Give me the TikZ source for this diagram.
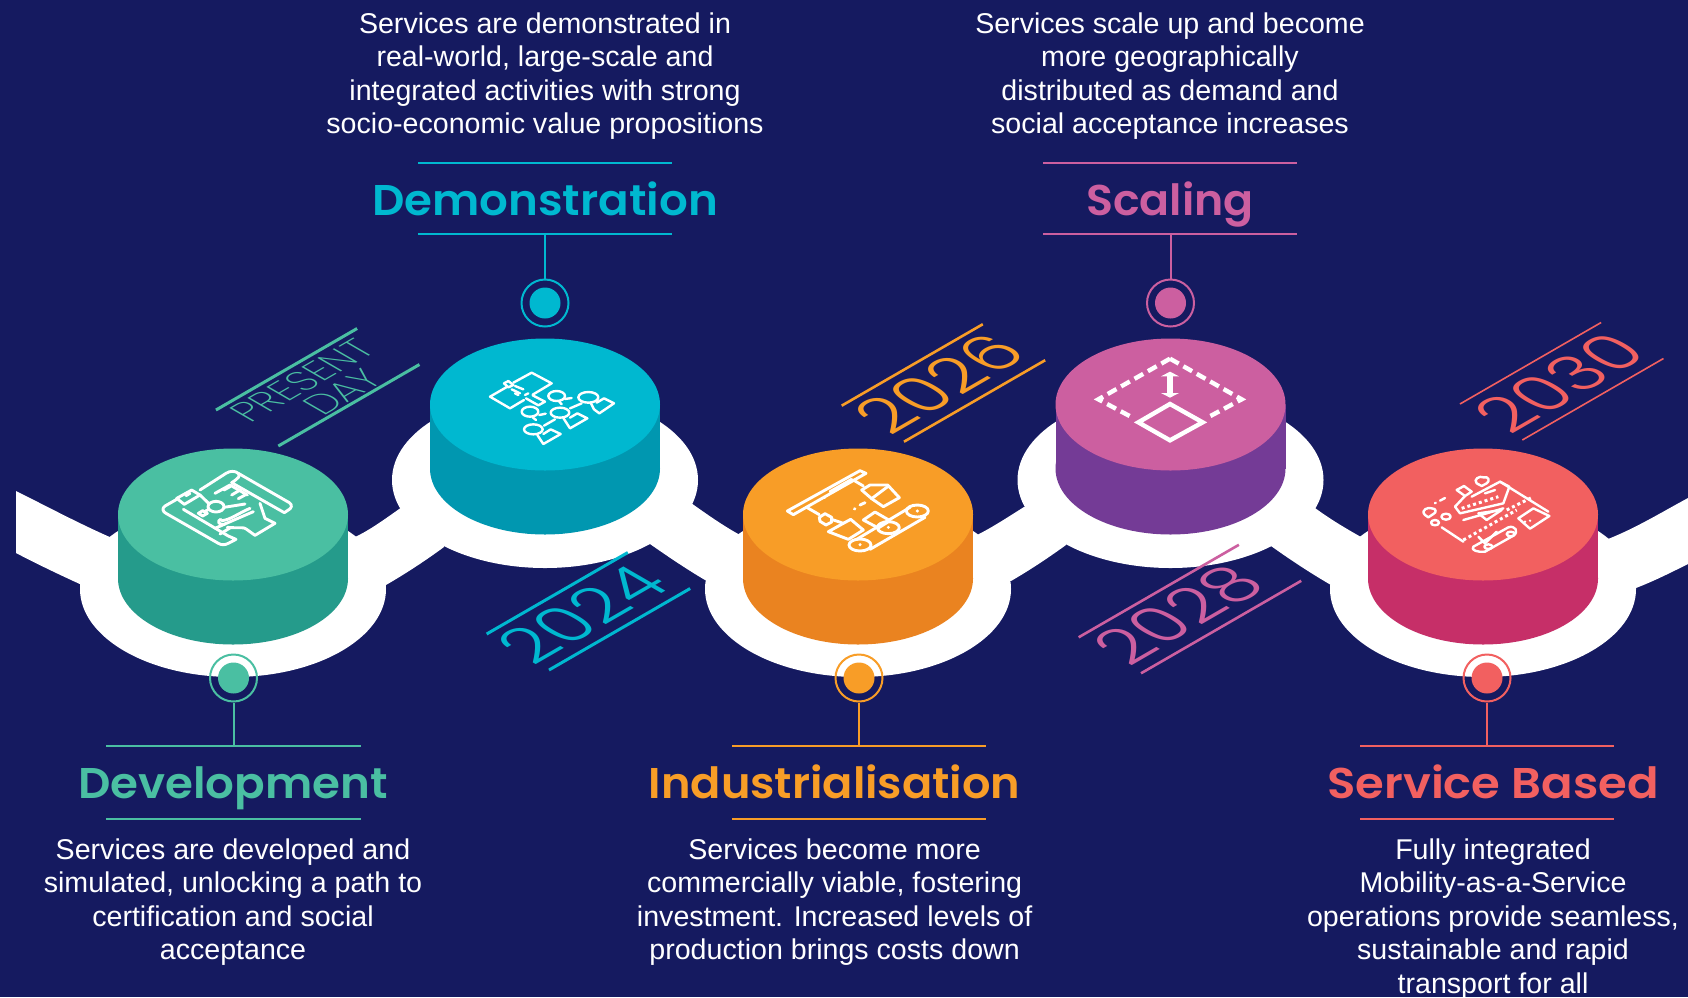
\documentclass[tikz,border=0pt]{standalone}
\usepackage{fontspec}
\setmainfont{Liberation Sans}
\newfontfamily\headf[FakeStretch=1.05]{Poppins SemiBold}
\newfontfamily\thinf{Poppins Light}
\newfontfamily\hairf{Poppins ExtraLight}
\definecolor{navy}{HTML}{151A60}
\definecolor{gA}{HTML}{4ABFA2}\definecolor{gB}{HTML}{259B8B}
\definecolor{tA}{HTML}{00B8D0}\definecolor{tB}{HTML}{0097B0}
\definecolor{oA}{HTML}{F89D27}\definecolor{oB}{HTML}{EA8320}
\definecolor{pA}{HTML}{CC5FA0}\definecolor{pB}{HTML}{743B96}
\definecolor{rA}{HTML}{F26060}\definecolor{rB}{HTML}{C62F68}
\tikzset{
  bodytext/.style={text=white,align=center,inner sep=0pt,font=\fontsize{28.6}{33.5}\selectfont},
  headtext/.style={inner sep=0pt,anchor=base,font=\headf\fontsize{43}{50}\selectfont},
  ring/.style={circle,draw=#1,line width=2pt,minimum size=47pt,inner sep=0pt},
  dot/.style={circle,fill=#1,minimum size=31pt,inner sep=0pt},
  rule/.style={draw=#1,line width=2pt},
  icon/.style={draw=white,line width=2.9pt,line join=round,line cap=round},
  thinicon/.style={draw=white,line width=2.4pt,line join=round,line cap=round},
  datetext/.style={text=#1,transform shape,inner sep=0pt,anchor=base west,font=\thinf\fontsize{68}{70}\selectfont},
}
\newcommand{\whitepad}[2]{\fill[white] (#1,#2+11) ellipse [x radius=153,y radius=88];}
\newcommand{\puck}[4]{%
  \fill[#4] (#1-115,#2) rectangle (#1+115,#2+64);
  \fill[#4] (#1,#2+64) ellipse [x radius=115,y radius=66];
  \fill[#3] (#1,#2) ellipse [x radius=115,y radius=66];}
\newenvironment{isoframe}[2]{\begin{scope}[shift={(#1,#2)},x=1pt,y=1pt,cm={0.866,0.5,-0.866,0.5,(0,0)}]}{\end{scope}}
\newcommand{\isorails}[4]{% length, colour, width, name
  \coordinate (#4a) at (0,0);\coordinate (#4b) at (#1,0);
  \coordinate (#4c) at (0,72);\coordinate (#4d) at (#1,72);
  \draw[#2,line width=#3pt] (#4a) -- (#4b);
  \draw[#2,line width=#3pt] (#4c) -- (#4d);}
\begin{document}
\begin{tikzpicture}[x=1pt,y=-1pt]
\useasboundingbox (0,0) rectangle (1688,997);
\fill[navy] (0,0) rectangle (1688,997);
% road
\fill[white] (16,491) .. controls (50,508) and (80,524) .. (112,538) -- (150,560) -- (82,585) .. controls (60,575) and (35,563) .. (16,553) -- cycle;
\fill[white] (355,537) .. controls (370,530) and (385,519) .. (402,507) -- (450,520) -- (444,547) .. controls (425,561) and (405,574) .. (386,585) -- (340,570) -- cycle;
\fill[white] (691,503) .. controls (708,515) and (722,525) .. (740,535) -- (740,590) -- (705,580) .. controls (688,570) and (670,558) .. (650,544) -- (650,500) -- cycle;
\fill[white] (977,535) .. controls (993,527) and (1008,517) .. (1024,507) -- (1070,510) -- (1066,545) .. controls (1048,558) and (1030,570) .. (1011,581) -- (970,570) -- cycle;
\fill[white] (1315,508) .. controls (1330,519) and (1345,528) .. (1361,537) -- (1361,590) -- (1331,585) .. controls (1312,574) and (1292,561) .. (1271,546) -- (1271,500) -- cycle;
\fill[white] (1608,539) .. controls (1636,528) and (1662,512) .. (1688,498) -- (1688,564) .. controls (1670,573) and (1654,581) .. (1636,588) -- (1590,590) -- cycle;
\whitepad{233}{578}\whitepad{545}{469}\whitepad{858}{578}\whitepad{1170.5}{469}\whitepad{1483}{578}
% date labels
\begin{isoframe}{278.3}{446}
 \isorails{163}{gA}{3}{dp}
 \node[datetext=gA,font=\hairf\fontsize{38.5}{38}\selectfont] (tp) at (6,38) {PRESENT};
 \node[datetext=gA,font=\hairf\fontsize{38.5}{38}\selectfont] (td) at (55,3) {DAY};
\end{isoframe}
\begin{isoframe}{549}{670}
 \isorails{163}{tA}{3}{da}
 \node[datetext=tA] (t24) at (-6,12) {2024};
\end{isoframe}
\begin{isoframe}{904}{441.7}
 \isorails{163}{oA}{2.6}{db}
 \node[datetext=oA] (t26) at (-3,13) {2026};
\end{isoframe}
\begin{isoframe}{1141}{673.3}
 \isorails{185}{pA}{2.6}{dc}
 \node[datetext=pA] (t28) at (-1,13) {2028};
\end{isoframe}
\begin{isoframe}{1522.3}{440}
 \isorails{163}{rA}{1.6}{dd}
 \node[datetext=rA] (t30) at (-3,11) {2030};
\end{isoframe}
% pucks
\puck{233}{514.5}{gA}{gB}
\puck{545}{404.5}{tA}{tB}
\puck{858}{514.5}{oA}{oB}
\puck{1170.5}{404.5}{pA}{pB}
\puck{1483}{514.5}{rA}{rB}
% icon 1
\begin{scope}[shift={(150,460)},x=1/3*1pt,y=-1/3*1pt]
 \draw[icon] (150,90) -- (228,40) .. controls (240,32) and (255,32) .. (265,40) -- (418,128) .. controls (428,135) and (425,145) .. (415,150) -- (403,158) -- (350,128);
 \draw[icon] (265,40) .. controls (272,48) and (265,55) .. (245,68) -- (350,128);
 \draw[icon] (80,115) -- (125,90) -- (150,105) -- (103,133) -- cycle;
 \draw[icon] (108,107) -- (120,100);
 \draw[icon] (80,118) -- (45,138) .. controls (35,145) and (38,155) .. (48,160) -- (205,250) .. controls (215,256) and (225,255) .. (235,250) -- (258,238) -- (235,228) -- (100,148);
 \draw[icon] (198,140) ellipse [x radius=24,y radius=16];
 \draw[icon] (150,105) -- (176,130);
 \draw[icon] (176,148) -- (162,156);
 \draw[icon] (145,160) -- (158,152) -- (172,160) -- (158,168) -- cycle;
 \draw[icon] (195,100) -- (240,75) -- (292,105);
 \draw[icon] (222,90) -- (240,80);
 \draw[icon] (245,105) -- (270,90);\draw[icon] (265,116) -- (285,105);
 \draw[icon] (222,142) -- (285,132);
 \draw[icon] (215,182) .. controls (240,180) and (265,160) .. (300,145);
 \draw[icon] (212,178) .. controls (200,183) and (205,195) .. (222,193) -- (310,155);
 \draw[icon] (232,202) .. controls (260,205) and (285,200) .. (290,208) -- (315,226) -- (375,190) -- (345,175) -- (330,130);
 \draw[icon] (195,205) -- (225,192);\draw[icon] (210,222) -- (243,202);
\end{scope}
% icon 2
\begin{scope}[shift={(400,320)},x=1/3*1pt,y=-1/3*1pt]
 \draw[thinicon] (340,188) -- (395,158) -- (455,190) -- (398,224);
 \draw[thinicon] (322,200) -- (270,230) -- (330,265) -- (372,240);
 \draw[thinicon] (312,190) -- (325,183) -- (340,195) -- (325,202) -- cycle;
 \draw[thinicon] (345,198) -- (370,208);\draw[thinicon] (335,208) -- (360,220);\draw[thinicon] (345,220) -- (355,225);
 \draw[thinicon] (375,225) -- (385,220);
 \draw[thinicon] (398,226) -- (435,245) -- (415,256) -- (378,235);
 \draw[thinicon] (470,228) ellipse [x radius=25,y radius=15];
 \draw[thinicon] (478,245) -- (485,253);\draw[thinicon] (495,237) -- (515,234);
 \draw[thinicon] (565,232) ellipse [x radius=30,y radius=16];
 \draw[thinicon] (572,248) -- (582,268);\draw[thinicon] (582,268)--(598,280) -- (642,250) -- (612,235) -- (590,248);
 \draw[thinicon] (510,265) -- (545,250);
 \draw[thinicon] (390,275) ellipse [x radius=25,y radius=15];
 \draw[thinicon] (398,292) -- (408,300);\draw[thinicon] (418,285) -- (437,281);
 \draw[thinicon] (480,278) ellipse [x radius=28,y radius=15];
 \draw[thinicon] (490,294) -- (510,325) -- (562,295) -- (532,280) -- (510,293);
 \draw[thinicon] (432,317) -- (465,298);
 \draw[thinicon] (400,328) ellipse [x radius=28,y radius=15];
 \draw[thinicon] (412,345) -- (430,372) -- (482,342) -- (452,328) -- (430,342);
\end{scope}
% icon 3
\begin{scope}[shift={(700,310)},x=1/3*1pt,y=-1/3*1pt]
 \draw[icon] (262,603) -- (480,482) -- (498,490) -- (280,614) -- cycle;
 \draw[icon] (372,563) -- (374,562);
 \draw[icon] (390,545) -- (455,508);
 \draw[icon] (460,510) -- (490,528);
 \draw[icon] (485,540) -- (510,525) -- (563,525) -- (598,563) -- (550,590) -- (515,566) -- cycle;
 \draw[icon] (515,566) -- (563,530);
 \draw[icon] (480,585) -- (495,578);\draw[icon] (463,597) -- (465,596);
 \draw[icon] (320,592) -- (358,614);
 \draw[icon] (358,622) -- (375,611) -- (395,622) -- (395,636) -- (378,645) -- (360,634) -- cycle;
 \draw[icon] (395,628) -- (430,640);
 \draw[icon] (385,665) -- (430,640) -- (452,628) -- (490,660) -- (445,688) -- cycle;
 \draw[icon] (490,630) -- (525,606) -- (570,632) -- (535,654) -- cycle;
 \draw[icon] (480,705) ellipse [x radius=33,y radius=18];
 \draw[icon] (565,653) ellipse [x radius=33,y radius=18];
 \draw[icon] (652,603) ellipse [x radius=33,y radius=18];
 \draw[icon] (510,718) -- (675,622);
 \draw[icon] (470,688) -- (630,592);
 \fill[white] (480,704) circle [radius=5];\fill[white] (565,652) circle [radius=5];\fill[white] (652,603) circle [radius=5];
\end{scope}
% icon 4
\begin{scope}[shift={(1030,260)},x=1/3*1pt,y=-1/3*1pt]
 \draw[white,line width=4.4pt,dash pattern=on 10pt off 5.4pt] (420,296) -- (205,418) -- (310,474);
 \draw[white,line width=4.4pt,dash pattern=on 10pt off 5.4pt] (420,296) -- (635,418) -- (530,474);
 \draw[white,line width=4.4pt,line join=miter] (325,487) -- (420,432) -- (518,487) -- (420,541) -- cycle;
 \draw[white,line width=5.5pt] (420,345) -- (420,400);
 \fill[white] (393,349) -- (420,335) -- (447,349) -- cycle;
 \fill[white] (393,399) -- (420,413) -- (447,399) -- cycle;
\end{scope}
% icon 5
\begin{scope}[shift={(1300,310)},x=1/3*1pt,y=-1/3*1pt]
 \draw[thinicon] (530,520) .. controls (518,508) and (540,496) .. (550,502) .. controls (568,498) and (570,514) .. (560,520) -- (545,528) -- cycle;
 \draw[thinicon] (375,615) .. controls (360,600) and (385,590) .. (395,595) .. controls (410,595) and (410,608) .. (400,612) -- (385,622) -- cycle;
 \draw[thinicon] (405,580) -- (407,578);\draw[thinicon] (420,572) -- (435,564);
 \draw[thinicon] (438,620) ellipse [x radius=14,y radius=9];
 \draw[thinicon] (405,638) ellipse [x radius=12,y radius=8];
 \draw[thinicon] (470,540) -- (492,528) -- (515,545) -- (495,558) -- cycle;
 \draw[thinicon] (495,558) -- (465,590) -- (480,610) -- (610,580) -- (628,530) -- (600,515) -- (515,560);
 \draw[line width=3pt,white,dash pattern=on 3pt off 3pt] (485,595) -- (595,560);
 \draw[thinicon] (555,550) -- (585,540);
 \draw[thinicon] (535,610) -- (605,600) -- (560,630) -- cycle;
 \draw[thinicon] (490,630) -- (560,610) -- (610,595);
 \draw[thinicon] (600,515) -- (745,605);
 \draw[line width=3pt,white,dash pattern=on 3pt off 3pt] (620,600) -- (700,560);
 \draw[thinicon] (655,625) -- (700,595) -- (748,618) -- (690,656) -- cycle;
 \fill[white] (675,635) circle [radius=4];\fill[white] (690,632) circle [radius=4];
 \draw[thinicon] (425,652) -- (490,695);
 \draw[line width=3pt,white,dash pattern=on 3pt off 3pt] (490,690) -- (650,600);
 \draw[thinicon] (520,710) -- (625,652) .. controls (645,645) and (658,665) .. (640,677) -- (555,725) .. controls (535,728) and (510,720) .. (520,710) -- cycle;
 \draw[thinicon] (535,680) -- (555,700) -- (590,665);
 \draw[thinicon] (565,710) ellipse [x radius=12,y radius=7];
 \draw[thinicon] (632,672) ellipse [x radius=12,y radius=7];
\end{scope}
% markers and stems
\node[dot=gA] (da1) at (233.5,678) {};\node[ring=gA] (m1) at (233.5,678) {};
\node[dot=tA] (da2) at (545,303) {};\node[ring=tA] (m2) at (545,303) {};
\node[dot=oA] (da3) at (859,678) {};\node[ring=oA] (m3) at (859,678) {};
\node[dot=pA] (da4) at (1170.5,303) {};\node[ring=pA] (m4) at (1170.5,303) {};
\node[dot=rA] (da5) at (1487,678) {};\node[ring=rA] (m5) at (1487,678) {};
\coordinate (s1) at (233.5,746);\coordinate (s2) at (545,234);\coordinate (s3) at (859,746);\coordinate (s4) at (1170.5,234);\coordinate (s5) at (1487,746);
\draw[rule=gA] (m1) -- (s1);\draw[rule=tA] (m2) -- (s2);\draw[rule=oA] (m3) -- (s3);\draw[rule=pA] (m4) -- (s4);\draw[rule=rA] (m5) -- (s5);
% rules
\draw[rule=gA] (106,746) -- (361,746);\draw[rule=gA] (106,819) -- (361,819);
\draw[rule=tA] (418,162.5) -- (672,162.5);\draw[rule=tA] (418,234) -- (672,234);
\draw[rule=oA] (732,746) -- (986,746);\draw[rule=oA] (732,819) -- (986,819);
\draw[rule=pA] (1043,162.5) -- (1297,162.5);\draw[rule=pA] (1043,234) -- (1297,234);
\draw[rule=rA] (1360,746) -- (1614,746);\draw[rule=rA] (1360,819) -- (1614,819);
% headings
\node[headtext,text=gA] (h1) at (233,798.7) {Development};
\node[headtext,text=tA] (h2) at (545,215) {Demonstration};
\node[headtext,text=oA] (h3) at (834.6,798.7) {\scalebox{0.99}[1]{Industrialisation}};
\node[headtext,text=pA] (h4) at (1170,215) {\scalebox{0.98}[1]{Scaling}};
\node[headtext,text=rA] (h5) at (1493,798.7) {\scalebox{1.03}[1]{Service Based}};
% body
\node[bodytext] (b1) at (233,902) {Services are developed and\\simulated, unlocking a path to\\certification and social\\acceptance};
\node[bodytext] (b2) at (545,76) {Services are demonstrated in\\real-world, large-scale and\\integrated activities with strong\\socio-economic value propositions};
\node[bodytext] (b3) at (834.6,902) {Services become more\\commercially viable, fostering\\investment. Increased levels of\\production brings costs down};
\node[bodytext] (b4) at (1170,76) {Services scale up and become\\more geographically\\distributed as demand and\\social acceptance increases};
\node[bodytext] (b5) at (1493,919) {Fully integrated\\Mobility-as-a-Service\\operations provide seamless,\\sustainable and rapid\\transport for all};
\end{tikzpicture}
\end{document}
